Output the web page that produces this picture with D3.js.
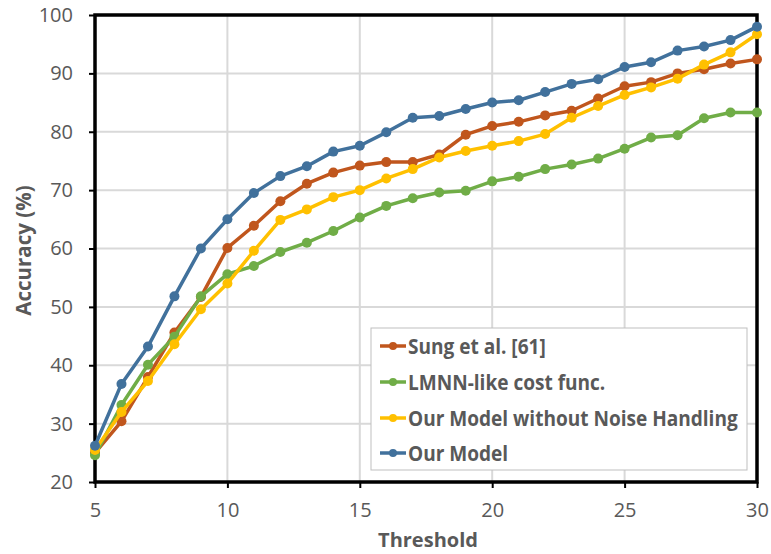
<!DOCTYPE html>
<html><head><meta charset="utf-8">
<script src="https://cdn.jsdelivr.net/npm/d3@7/dist/d3.min.js"></script>
<style>body{margin:0;background:#fff;}svg{display:block;}</style>
</head><body>
<svg id="chart" width="771" height="554"></svg>
<script>
const thresholds = [5,6,7,8,9,10,11,12,13,14,15,16,17,18,19,20,21,22,23,24,25,26,27,28,29,30];
const sung  = [25.0,30.4,38.0,45.6,51.7,60.1,63.9,68.1,71.1,73.0,74.2,74.8,74.8,76.1,79.5,81.0,81.7,82.8,83.6,85.7,87.8,88.5,90.0,90.7,91.7,92.4];
const lmnn  = [24.6,33.2,40.1,44.9,51.8,55.6,57.0,59.4,61.0,63.0,65.3,67.3,68.6,69.6,69.9,71.5,72.3,73.6,74.4,75.4,77.1,79.0,79.4,82.3,83.3,83.3];
const noNoise = [25.5,32.0,37.3,43.6,49.6,54.0,59.6,64.9,66.7,68.8,70.0,72.0,73.6,75.6,76.7,77.6,78.4,79.6,82.4,84.4,86.3,87.6,89.1,91.5,93.6,96.7];
const ours  = [26.2,36.8,43.2,51.8,60.0,65.0,69.5,72.4,74.1,76.6,77.6,79.9,82.4,82.7,83.9,85.0,85.4,86.8,88.2,89.0,91.1,91.9,93.9,94.6,95.7,98.0];
const seriesNames = ["Sung et al. [61]","LMNN-like cost func.","Our Model without Noise Handling","Our Model"];
const seriesColors = ["#C0561D","#70AD47","#FFC000","#41719C"];
const xTicks = [5,10,15,20,25,30];
const yTicks = [20,30,40,50,60,70,80,90,100];

const series = [sung,lmnn,noNoise,ours].map((v,i)=>({name:seriesNames[i],color:seriesColors[i],values:v}));

const svg = d3.select("#chart");
const L=95,R=757,T=15,B=482;
const x = d3.scaleLinear().domain([5,30]).range([L,R]);
const y = d3.scaleLinear().domain([20,100]).range([B,T]);
const font = "'Open Sans', 'Liberation Sans', sans-serif";
const textCol = "#595959";

// gridlines
svg.append("g").selectAll("line").data(yTicks).join("line")
  .attr("x1",L).attr("x2",R).attr("y1",d=>y(d)).attr("y2",d=>y(d))
  .attr("stroke","#D9D9D9").attr("stroke-width",2);
svg.append("g").selectAll("line").data(xTicks).join("line")
  .attr("y1",T).attr("y2",B).attr("x1",d=>x(d)).attr("x2",d=>x(d))
  .attr("stroke","#D9D9D9").attr("stroke-width",2);

// axes
const yAxis = svg.append("g").attr("transform",`translate(${L},0)`)
  .call(d3.axisLeft(y).tickValues(yTicks).tickSize(6).tickPadding(16));
const xAxis = svg.append("g").attr("transform",`translate(0,${B})`)
  .call(d3.axisBottom(x).tickValues(xTicks).tickSize(6).tickPadding(15));
[yAxis,xAxis].forEach(a=>{
  a.select(".domain").remove();
  a.selectAll(".tick line").attr("stroke","#000").attr("stroke-width",2);
  a.selectAll(".tick text").attr("fill",textCol).attr("font-family",font).attr("font-size",20);
});

// frame
svg.append("rect").attr("x",L).attr("y",T).attr("width",R-L).attr("height",B-T)
  .attr("fill","none").attr("stroke","#000").attr("stroke-width",3.5);

// lines
const line = d3.line().x((d,i)=>x(thresholds[i])).y(d=>y(d));
const g = svg.append("g");
series.forEach(s=>{
  g.append("path").attr("d",line(s.values)).attr("fill","none")
    .attr("stroke",s.color).attr("stroke-width",3.5).attr("stroke-linejoin","round");
  g.selectAll(null).data(s.values).join("circle")
    .attr("cx",(d,i)=>x(thresholds[i])).attr("cy",d=>y(d)).attr("r",5)
    .attr("fill",s.color);
});

// axis titles
svg.append("text").attr("x",(L+R)/2+2).attr("y",547).attr("text-anchor","middle")
  .attr("font-family",font).attr("font-weight","bold").attr("font-size",20).attr("fill",textCol).text("Threshold");
svg.append("text").attr("transform",`translate(31,${(T+B)/2+2}) rotate(-90)`).attr("text-anchor","middle")
  .attr("font-family",font).attr("font-weight","bold").attr("font-size",20.5).attr("fill",textCol).text("Accuracy (%)");

// legend
const lg = svg.append("g");
lg.append("rect").attr("x",371).attr("y",328).attr("width",376).attr("height",142)
  .attr("fill","#fff").attr("stroke","#BFBFBF").attr("stroke-width",1);
const rowY = [346,382,418,453];
const texts = [];
series.forEach((s,i)=>{
  lg.append("line").attr("x1",380).attr("x2",406).attr("y1",rowY[i]).attr("y2",rowY[i])
    .attr("stroke",s.color).attr("stroke-width",3.5);
  lg.append("circle").attr("cx",393).attr("cy",rowY[i]).attr("r",4).attr("fill",s.color);
  const t = lg.append("text").attr("x",0).attr("y",0).attr("dy","0.36em")
    .attr("font-family",font).attr("font-weight","bold").attr("font-size",21.5).attr("fill",textCol).text(s.name);
  texts.push({t,i});
});
// horizontal compression so the longest entry matches the legend width
const longest = texts[2].t.node().getComputedTextLength();
const k = Math.min(1, 330/longest);
texts.forEach(({t,i})=>t.attr("transform",`translate(408,${rowY[i]}) scale(${k},1)`));
</script>
</body></html>
